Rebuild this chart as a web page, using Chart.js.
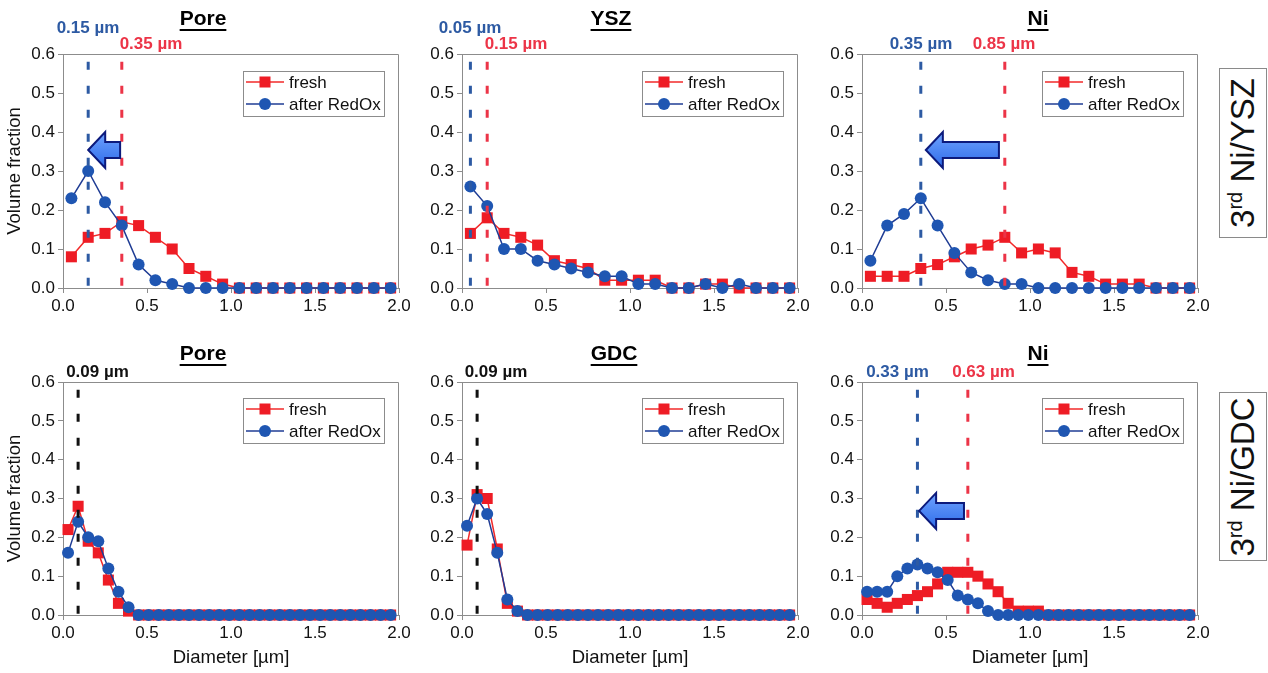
<!DOCTYPE html>
<html>
<head>
<meta charset="utf-8">
<script src="https://cdn.jsdelivr.net/npm/chart.js@4.4.1/dist/chart.umd.min.js"></script>
<style>
  body { margin: 0; background: #fff; width: 1268px; height: 673px; overflow: hidden; position: relative;
         font-family: "Liberation Sans", Arial, sans-serif; }
  canvas { position: absolute; }
  .side { position: absolute; left: 1219px; width: 48px; border: 1px solid #8a8a8a; box-sizing: border-box; background: #fff; }
  .side span { position: absolute; left: 50%; top: 50%; transform: translate(-50%, -50%) rotate(-90deg);
               white-space: nowrap; font-size: 33px; color: #111; }
  .side sup { font-size: 20px; }
</style>
</head>
<body>
<div class="side" style="top:68px;height:170px"><span>3<sup>rd</sup> Ni/YSZ</span></div>
<div class="side" style="top:392px;height:169px"><span>3<sup>rd</sup> Ni/GDC</span></div>
<script>
// diameter bins (µm)
const xTop = [0.05, 0.15, 0.25, 0.35, 0.45, 0.55, 0.65, 0.75, 0.85, 0.95,
              1.05, 1.15, 1.25, 1.35, 1.45, 1.55, 1.65, 1.75, 1.85, 1.95];
const xBottom = [0.03, 0.09, 0.15, 0.21, 0.27, 0.33, 0.39, 0.45, 0.51, 0.57, 0.63,
                 0.69, 0.75, 0.81, 0.87, 0.93, 0.99, 1.05, 1.11, 1.17, 1.23, 1.29,
                 1.35, 1.41, 1.47, 1.53, 1.59, 1.65, 1.71, 1.77, 1.83, 1.89, 1.95];

// 3rd Ni/YSZ
const poreYszFresh = [0.08, 0.13, 0.14, 0.17, 0.16, 0.13, 0.10, 0.05, 0.03, 0.01, 0, 0, 0, 0, 0, 0, 0, 0, 0, 0];
const poreYszRedox = [0.23, 0.30, 0.22, 0.16, 0.06, 0.02, 0.01, 0, 0, 0, 0, 0, 0, 0, 0, 0, 0, 0, 0, 0];
const yszFresh = [0.14, 0.18, 0.14, 0.13, 0.11, 0.07, 0.06, 0.05, 0.02, 0.02, 0.02, 0.02, 0, 0, 0.01, 0.01, 0, 0, 0, 0];
const yszRedox = [0.26, 0.21, 0.10, 0.10, 0.07, 0.06, 0.05, 0.04, 0.03, 0.03, 0.01, 0.01, 0, 0, 0.01, 0, 0.01, 0, 0, 0];
const niYszFresh = [0.03, 0.03, 0.03, 0.05, 0.06, 0.08, 0.10, 0.11, 0.13, 0.09, 0.10, 0.09, 0.04, 0.03, 0.01, 0.01, 0.01, 0, 0, 0];
const niYszRedox = [0.07, 0.16, 0.19, 0.23, 0.16, 0.09, 0.04, 0.02, 0.01, 0.01, 0, 0, 0, 0, 0, 0, 0, 0, 0, 0];

// 3rd Ni/GDC
const poreGdcFresh = [0.22, 0.28, 0.19, 0.16, 0.09, 0.03, 0.01, 0, 0, 0, 0, 0, 0, 0, 0, 0, 0,
                      0, 0, 0, 0, 0, 0, 0, 0, 0, 0, 0, 0, 0, 0, 0, 0];
const poreGdcRedox = [0.16, 0.24, 0.20, 0.19, 0.12, 0.06, 0.02, 0, 0, 0, 0, 0, 0, 0, 0, 0, 0,
                      0, 0, 0, 0, 0, 0, 0, 0, 0, 0, 0, 0, 0, 0, 0, 0];
const gdcFresh = [0.18, 0.31, 0.30, 0.17, 0.03, 0.01, 0, 0, 0, 0, 0, 0, 0, 0, 0, 0, 0,
                  0, 0, 0, 0, 0, 0, 0, 0, 0, 0, 0, 0, 0, 0, 0, 0];
const gdcRedox = [0.23, 0.30, 0.26, 0.16, 0.04, 0.01, 0, 0, 0, 0, 0, 0, 0, 0, 0, 0, 0,
                  0, 0, 0, 0, 0, 0, 0, 0, 0, 0, 0, 0, 0, 0, 0, 0];
const niGdcFresh = [0.04, 0.03, 0.02, 0.03, 0.04, 0.05, 0.06, 0.08, 0.11, 0.11, 0.11, 0.10, 0.08, 0.06, 0.03, 0.01, 0.01,
                    0.01, 0, 0, 0, 0, 0, 0, 0, 0, 0, 0, 0, 0, 0, 0, 0];
const niGdcRedox = [0.06, 0.06, 0.06, 0.10, 0.12, 0.13, 0.12, 0.11, 0.09, 0.05, 0.04, 0.03, 0.01, 0, 0, 0, 0,
                    0, 0, 0, 0, 0, 0, 0, 0, 0, 0, 0, 0, 0, 0, 0, 0];

// mode diameters marked with dashed lines [after RedOx, fresh]
const poreYszModes = [0.15, 0.35];
const yszModes = [0.05, 0.15];
const niYszModes = [0.35, 0.85];
const poreGdcModes = [0.09];
const gdcModes = [0.09];
const niGdcModes = [0.33, 0.63];

const FONT = '"Liberation Sans", Arial, sans-serif';
const RED = '#ee1c25', RED_LINE = '#f22a2a';
const BLUE = '#1f56b2', BLUE_LINE = '#1f3c94';
const DASH_BLUE = '#2d5aa3', DASH_RED = '#ec3447', DASH_BLACK = '#111';

const decor = {
  id: 'decor',
  afterDraw(chart, args, o) {
    const { ctx, chartArea: a, scales: { x, y } } = chart;
    ctx.save();

    // top and right sides of the plot box
    ctx.strokeStyle = '#8c8c8c';
    ctx.lineWidth = 1;
    ctx.beginPath();
    ctx.moveTo(a.left, a.top + 0.5);
    ctx.lineTo(a.right - 0.5, a.top + 0.5);
    ctx.lineTo(a.right - 0.5, a.bottom);
    ctx.stroke();

    // title, bold + underlined
    ctx.font = 'bold 21px ' + FONT;
    ctx.fillStyle = '#000';
    ctx.textAlign = 'center';
    ctx.textBaseline = 'middle';
    const tx = a.left + o.titleDx, ty = a.top + o.titleDy;
    ctx.fillText(o.title, tx, ty);
    const tw = ctx.measureText(o.title).width;
    ctx.fillRect(tx - tw / 2, ty + 10, tw, 2);

    // mode labels
    ctx.font = 'bold 17px ' + FONT;
    o.labels.forEach(l => {
      ctx.fillStyle = l.color;
      ctx.fillText(l.text, a.left + l.dx, a.top + l.dy);
    });

    // shift arrows
    o.arrows.forEach(ar => {
      const tip = x.getPixelForValue(ar.to), tail = x.getPixelForValue(ar.from), cy = y.getPixelForValue(ar.y);
      const hl = 17, hh = 18, bh = 8;
      ctx.beginPath();
      ctx.moveTo(tip, cy);
      ctx.lineTo(tip + hl, cy - hh);
      ctx.lineTo(tip + hl, cy - bh);
      ctx.lineTo(tail, cy - bh);
      ctx.lineTo(tail, cy + bh);
      ctx.lineTo(tip + hl, cy + bh);
      ctx.lineTo(tip + hl, cy + hh);
      ctx.closePath();
      const g = ctx.createLinearGradient(0, cy - hh, 0, cy + hh);
      g.addColorStop(0, '#6fa3ff');
      g.addColorStop(1, '#2e6be8');
      ctx.fillStyle = g;
      ctx.fill();
      ctx.strokeStyle = '#0c1a7c';
      ctx.lineWidth = 2;
      ctx.lineJoin = 'miter';
      ctx.stroke();
    });

    // legend box
    const bw = 141, bh2 = 45;
    const bx = a.right - 15 - bw, by = a.top + o.legendDy;
    ctx.fillStyle = '#fff';
    ctx.fillRect(bx, by, bw, bh2);
    ctx.strokeStyle = '#8c8c8c';
    ctx.lineWidth = 1;
    ctx.strokeRect(bx + 0.5, by + 0.5, bw, bh2);
    const rows = [
      { text: 'fresh', line: RED_LINE, fill: RED, shape: 'rect', yy: by + 11 },
      { text: 'after RedOx', line: BLUE_LINE, fill: BLUE, shape: 'circle', yy: by + 33 }
    ];
    ctx.font = '17px ' + FONT;
    ctx.textAlign = 'left';
    rows.forEach(r => {
      ctx.strokeStyle = r.line;
      ctx.lineWidth = 1.5;
      ctx.beginPath();
      ctx.moveTo(bx + 3, r.yy);
      ctx.lineTo(bx + 41, r.yy);
      ctx.stroke();
      ctx.fillStyle = r.fill;
      if (r.shape === 'rect') {
        ctx.fillRect(bx + 22 - 5.5, r.yy - 5.5, 11, 11);
      } else {
        ctx.beginPath();
        ctx.arc(bx + 22, r.yy, 6, 0, Math.PI * 2);
        ctx.fill();
      }
      ctx.fillStyle = '#111';
      ctx.fillText(r.text, bx + 46, r.yy + 1);
    });
    ctx.restore();
  }
};

function makePanel(p) {
  const cv = document.createElement('canvas');
  cv.width = p.w;
  cv.height = p.h;
  cv.style.left = p.cx + 'px';
  cv.style.top = p.cy + 'px';
  document.body.appendChild(cv);

  const datasets = [];
  p.modes.forEach((m, i) => {
    datasets.push({
      data: [{ x: m, y: 0.58 }, { x: m, y: 0 }],
      borderColor: p.modeColors[i],
      borderWidth: 3,
      borderDash: [8, 16],
      pointRadius: 0,
      clip: false,
      order: 0
    });
  });
  datasets.push({
    label: 'after RedOx',
    data: p.x.map((v, i) => ({ x: v, y: p.redox[i] })),
    borderColor: BLUE_LINE,
    borderWidth: 1.5,
    pointStyle: 'circle',
    pointRadius: 6,
    pointBackgroundColor: BLUE,
    pointBorderColor: BLUE,
    pointBorderWidth: 0,
    clip: false,
    order: 1
  });
  datasets.push({
    label: 'fresh',
    data: p.x.map((v, i) => ({ x: v, y: p.fresh[i] })),
    borderColor: RED_LINE,
    borderWidth: 1.5,
    pointStyle: 'rect',
    pointRadius: 7.8,
    pointBackgroundColor: RED,
    pointBorderColor: RED,
    pointBorderWidth: 0,
    clip: false,
    order: 2
  });

  const labels = p.modes.map((m, i) => ({
    text: m.toFixed(2) + ' µm',
    color: p.labelColors[i],
    dx: p.labelPos[i][0],
    dy: p.labelPos[i][1]
  }));

  new Chart(cv, {
    type: 'line',
    data: { datasets },
    options: {
      responsive: false,
      animation: false,
      events: [],
      layout: { padding: { left: 0, right: p.padRight, top: p.padTop, bottom: 0 } },
      scales: {
        x: {
          type: 'linear',
          min: 0,
          max: 2,
          ticks: {
            stepSize: 0.5,
            callback: v => v.toFixed(1),
            font: { family: FONT, size: 17 },
            color: '#111',
            padding: 3,
            maxRotation: 0
          },
          grid: { drawOnChartArea: false, tickLength: 5, color: '#8c8c8c' },
          border: { color: '#8c8c8c' },
          title: {
            display: p.xTitle,
            text: 'Diameter [µm]',
            font: { family: FONT, size: 18.5 },
            color: '#111',
            padding: { top: 0, bottom: 4 }
          },
          afterFit: s => { s.height = p.xAxisH; }
        },
        y: {
          min: 0,
          max: 0.6,
          ticks: {
            stepSize: 0.1,
            callback: v => v.toFixed(1),
            font: { family: FONT, size: 17 },
            color: '#111',
            padding: 3
          },
          grid: { drawOnChartArea: false, tickLength: 5, color: '#8c8c8c' },
          border: { color: '#8c8c8c' },
          title: {
            display: p.yTitle,
            text: 'Volume fraction',
            font: { family: FONT, size: 18.5 },
            color: '#111',
            padding: { top: 4, bottom: 0 }
          },
          afterFit: s => { s.width = p.yAxisW; }
        }
      },
      plugins: {
        legend: { display: false },
        tooltip: { enabled: false },
        decor: {
          title: p.title,
          titleDx: p.titleDx,
          titleDy: p.titleDy,
          labels: labels,
          arrows: p.arrows,
          legendDy: p.legendDy
        }
      }
    },
    plugins: [decor]
  });
}

const cols = [
  { cx: 0, w: 420, yAxisW: 63, padRight: 21, yTitle: true },
  { cx: 420, w: 420, yAxisW: 42, padRight: 42, yTitle: false },
  { cx: 810, w: 410, yAxisW: 52, padRight: 22, yTitle: false }
];
const rows = [
  { cy: 0, h: 330, padTop: 54, xAxisH: 42, xTitle: false, titleDy: -35, legendDy: 17 },
  { cy: 330, h: 343, padTop: 52, xAxisH: 58, xTitle: true, titleDy: -28, legendDy: 16 }
];

const panels = [
  { r: 0, c: 0, title: 'Pore', titleDx: 140, x: xTop, fresh: poreYszFresh, redox: poreYszRedox,
    modes: poreYszModes, modeColors: [DASH_BLUE, DASH_RED], labelColors: [DASH_BLUE, DASH_RED],
    labelPos: [[25, -26], [88, -10]], arrows: [{ from: 0.34, to: 0.15, y: 0.354 }] },
  { r: 0, c: 1, title: 'YSZ', titleDx: 149, x: xTop, fresh: yszFresh, redox: yszRedox,
    modes: yszModes, modeColors: [DASH_BLUE, DASH_RED], labelColors: [DASH_BLUE, DASH_RED],
    labelPos: [[8, -26], [54, -10]], arrows: [] },
  { r: 0, c: 2, title: 'Ni', titleDx: 176, x: xTop, fresh: niYszFresh, redox: niYszRedox,
    modes: niYszModes, modeColors: [DASH_BLUE, DASH_RED], labelColors: [DASH_BLUE, DASH_RED],
    labelPos: [[59, -10], [142, -10]], arrows: [{ from: 0.815, to: 0.38, y: 0.354 }] },
  { r: 1, c: 0, title: 'Pore', titleDx: 140, x: xBottom, fresh: poreGdcFresh, redox: poreGdcRedox,
    modes: poreGdcModes, modeColors: [DASH_BLACK], labelColors: ['#111'],
    labelPos: [[34.5, -10]], arrows: [] },
  { r: 1, c: 1, title: 'GDC', titleDx: 152, x: xBottom, fresh: gdcFresh, redox: gdcRedox,
    modes: gdcModes, modeColors: [DASH_BLACK], labelColors: ['#111'],
    labelPos: [[34, -10]], arrows: [] },
  { r: 1, c: 2, title: 'Ni', titleDx: 176, x: xBottom, fresh: niGdcFresh, redox: niGdcRedox,
    modes: niGdcModes, modeColors: [DASH_BLUE, DASH_RED], labelColors: [DASH_BLUE, DASH_RED],
    labelPos: [[35.5, -10], [121.5, -10]], arrows: [{ from: 0.607, to: 0.34, y: 0.268 }] }
];

panels.forEach(pn => makePanel(Object.assign({}, cols[pn.c], rows[pn.r], pn)));
</script>
</body>
</html>
